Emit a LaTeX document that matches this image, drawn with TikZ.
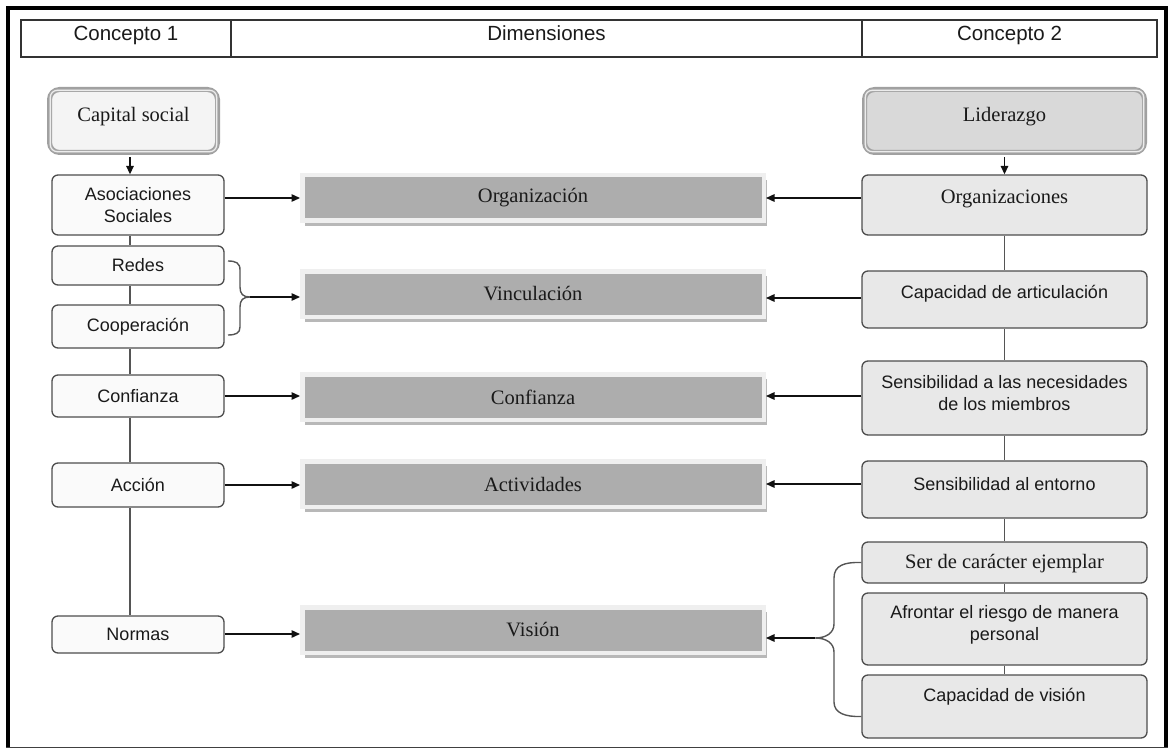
\documentclass[tikz,border=0pt]{standalone}
\usepackage{fontspec}
\usetikzlibrary{arrows.meta,shadows}
\newfontfamily\sanf{Liberation Sans}
\newfontfamily\serf{Liberation Serif}
\definecolor{txt}{HTML}{1A1A1A}
\definecolor{bdr}{HTML}{4D4D4D}
\definecolor{lfill}{HTML}{FAFAFA}
\definecolor{rfill}{HTML}{E8E8E8}
\definecolor{capfill}{HTML}{F4F4F4}
\definecolor{lidfill}{HTML}{D9D9D9}
\definecolor{tbdr}{HTML}{A0A0A0}
\definecolor{inl}{HTML}{A8A8A8}
\definecolor{inlight}{HTML}{ECECEC}
\definecolor{cgray}{HTML}{ADADAD}
\definecolor{cframe}{HTML}{EFEFEF}
\definecolor{shgray}{HTML}{B8B8B8}
\definecolor{arrc}{HTML}{111111}
\definecolor{vlc}{HTML}{555555}
\definecolor{hdrc}{HTML}{333333}
\begin{document}
\begin{tikzpicture}[x=1pt,y=-1pt,
  sans/.style={font=\sanf\fontsize{18}{22}\selectfont, text=txt, align=center, inner sep=0pt},
  serif/.style={font=\serf\fontsize{20.5}{24}\selectfont, text=txt, align=center, inner sep=0pt},
  hcell/.style={draw=hdrc, line width=1.3pt, minimum height=37pt, inner sep=0pt,
    text height=14pt, text depth=9pt, font=\sanf\fontsize{20.5}{24}\selectfont, text=txt},
  lbox/.style={sans, draw=bdr, line width=1.3pt, rounded corners=6pt, fill=lfill, minimum width=172pt},
  rbox/.style={lbox, fill=rfill, minimum width=285pt},
  topbox/.style={draw=tbdr, line width=5pt, rounded corners=10pt, minimum height=63pt, inner sep=0pt},
  inframe/.style={draw=inl, double=inlight, double distance=1.2pt, line width=0.9pt, rounded corners=7pt},
  cbox/.style={serif, fill=cgray, draw=cframe, line width=4.5pt, minimum width=461.5pt, minimum height=45.5pt,
    drop shadow={shadow xshift=3pt, shadow yshift=-5pt, fill=shgray, opacity=1}},
  arr/.style={draw=arrc, line width=1.4pt, -{Triangle[length=8.5pt,width=7.5pt]}},
  vline/.style={draw=vlc, line width=1.5pt},
  brc/.style={draw=vlc, line width=1.4pt}
]
\useasboundingbox (0,0) rectangle (1171,749);

% outer frame
\draw[line width=3.5pt, draw=black] (8,747) -- (8,8) -- (1166,8) -- (1166,747);
\draw[line width=1.5pt, draw=black!75] (6.25,747.5) -- (1167.75,747.5);

% header
\node[hcell, minimum width=210pt] (h1) at (126,38.5) {Concepto 1};
\node[hcell, minimum width=631pt] (h2) at (546.5,38.5) {Dimensiones};
\node[hcell, minimum width=295pt] (h3) at (1009.5,38.5) {Concepto 2};

% ---------------- left column
\coordinate (lx) at (130,0);
\node[topbox, fill=capfill, minimum width=168pt] (cs) at (133.5,121) {};
\draw[inframe] ([shift={(3.3,3.3)}]cs.north west) rectangle ([shift={(-3.3,-3.3)}]cs.south east);
\node[serif] (cs-t) at (133.5,117) {Capital social};

\node[lbox, minimum height=60pt] (aso) at (138,205) {Asociaciones\\Sociales};
\node[lbox, minimum height=39pt] (redes) at (138,265.5) {Redes};
\node[lbox, minimum height=43pt] (coop) at (138,326.5) {Cooperación};
\node[lbox, minimum height=42pt] (conf) at (138,396) {Confianza};
\node[lbox, minimum height=44pt] (acc) at (138,485) {Acción};
\node[lbox, minimum height=37pt] (norm) at (138,634.5) {Normas};

\draw[arr] ([yshift=-2.5pt]cs.south -| lx) -- (aso.north -| lx);
\draw[vline] (aso.south -| lx) -- (redes.north -| lx);
\draw[vline] (redes.south -| lx) -- (coop.north -| lx);
\draw[vline] (coop.south -| lx) -- (conf.north -| lx);
\draw[vline] (conf.south -| lx) -- (acc.north -| lx);
\draw[vline] (acc.south -| lx) -- (norm.north -| lx);

% ---------------- centre column
\node[cbox] (corg) at (533,198) {Organización};
\node[cbox] (cvin) at (533,294) {Vinculación};
\node[cbox] (ccon) at (533,397) {Confianza};
\node[cbox] (cact) at (533,484) {Actividades};
\node[cbox] (cvis) at (533,630) {Visión};

% left brace
\coordinate (lb) at (250,297);
\draw[brc] (228,261) .. controls (236,261) and (240,263) .. (240,270) -- (240,287)
  .. controls (240,294) and (243,297) .. (lb)
  .. controls (243,297) and (240,300) .. (240,307) -- (240,327)
  .. controls (240,333) and (236,335) .. (228,335);

% left arrows
\coordinate (ne) at ([yshift=0.5pt]norm.east);
\draw[arr] (aso.east |- corg.west) -- (corg.west);
\draw[arr] (lb) -- (lb -| cvin.west);
\draw[arr] (conf.east) -- (conf.east -| ccon.west);
\draw[arr] (acc.east) -- (acc.east -| cact.west);
\draw[arr] (ne) -- (ne -| cvis.west);

% ---------------- right column
\node[topbox, fill=lidfill, minimum width=280pt] (lid) at (1004.5,121) {};
\draw[inframe] ([shift={(3.3,3.3)}]lid.north west) rectangle ([shift={(-3.3,-3.3)}]lid.south east);
\node[serif] (lid-t) at (1004.5,117) {Liderazgo};

\node[rbox, minimum height=60pt] (orgs) at (1004.5,205) {};
\node[serif] (orgs-t) at (1004.5,199) {Organizaciones};
\node[rbox, minimum height=57pt] (art) at (1004.5,299.5) {};
\node[sans] (art-t) at (1004.5,293.5) {Capacidad de articulación};
\node[rbox, minimum height=74pt] (sens) at (1004.5,398) {};
\node[sans] (sens-t) at (1004.5,393) {Sensibilidad a las necesidades\\de los miembros};
\node[rbox, minimum height=57pt] (ent) at (1004.5,489.5) {};
\node[sans] (ent-t) at (1004.5,484.5) {Sensibilidad al entorno};
\node[rbox, minimum height=41pt] (ser) at (1004.5,562.5) {};
\node[serif] (ser-t) at (1004.5,564) {Ser de carácter ejemplar};
\node[rbox, minimum height=72pt] (afr) at (1004.5,629) {};
\node[sans] (afr-t) at (1004.5,625) {Afrontar el riesgo de manera\\personal};
\node[rbox, minimum height=63pt] (vis) at (1004.5,706.5) {};
\node[sans] (vis-t) at (1004.5,697) {Capacidad de visión};

\draw[arr] ([yshift=-2.5pt]lid.south) -- (orgs.north);
\draw[vline] (orgs.south) -- (art.north);
\draw[vline] (art.south) -- (sens.north);
\draw[vline] (sens.south) -- (ent.north);
\draw[vline] (ent.south) -- (ser.north);
\draw[vline] (ser.south) -- (afr.north);
\draw[vline] (afr.south) -- (vis.north);

% right brace
\coordinate (rb) at (815,638);
\draw[brc] (ser.west) .. controls (845,562) and (834,565) .. (834,578) -- (834,624)
  .. controls (834,633) and (826,638) .. (rb)
  .. controls (826,638) and (834,643) .. (834,652) -- (834,702)
  .. controls (834,713) and (845,717) .. ([yshift=-10pt]vis.west);

% right arrows
\coordinate (aw) at ([yshift=1.5pt]art.west);
\draw[arr] (orgs.west |- corg.east) -- (corg.east);
\draw[arr] (aw) -- (aw -| cvin.east);
\draw[arr] (sens.west |- conf.east) -- (ccon.east |- conf.east);
\draw[arr] (ent.west |- cact.east) -- (cact.east);
\draw[arr] (rb) -- (rb -| cvis.east);
\end{tikzpicture}
\end{document}
